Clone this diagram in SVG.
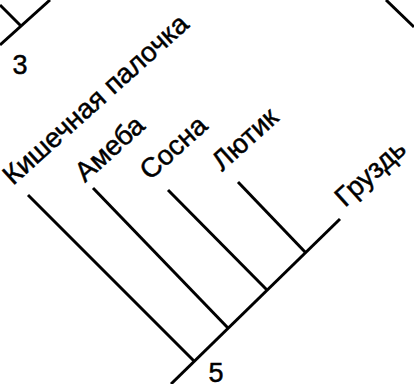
<svg xmlns="http://www.w3.org/2000/svg" width="414" height="384" viewBox="0 0 414 384">
<style>
.ln{stroke:#000;stroke-width:3;fill:none;stroke-linecap:butt}
.lb{font-family:"Liberation Sans",Arial,sans-serif;font-size:27.5px;fill:#000;stroke:#000;stroke-width:0.5}
.num{font-family:"Liberation Sans",Arial,sans-serif;font-size:27px;fill:#000;stroke:#000;stroke-width:0.5;text-anchor:middle}
</style>
<rect width="414" height="384" fill="#fff"/>
<g id="connectors">
<line class="ln" x1="0" y1="45" x2="50" y2="0"/>
<line class="ln" x1="0" y1="5" x2="21" y2="26"/>
<line class="ln" x1="386" y1="0" x2="414" y2="27"/>
<line class="ln" x1="171" y1="384" x2="340" y2="219"/>
<line class="ln" x1="28" y1="195" x2="194" y2="361"/>
<line class="ln" x1="93" y1="188" x2="228" y2="328"/>
<line class="ln" x1="168" y1="190" x2="267" y2="290"/>
<line class="ln" x1="238" y1="182" x2="306" y2="253"/>
</g>
<g id="node-3"><text class="num" x="20" y="74">3</text></g>
<g id="node-5"><text class="num" x="216" y="382">5</text></g>
<g id="node-ecoli"><text class="lb" x="13" y="186" transform="rotate(-42 13 186)">Кишечная палочка</text></g>
<g id="node-ameba"><text class="lb" x="85" y="183" transform="rotate(-42 85 183)">Амеба</text></g>
<g id="node-sosna"><text class="lb" x="150" y="181" transform="rotate(-42 150 181)">Сосна</text></g>
<g id="node-lyutik"><text class="lb" x="222" y="172" transform="rotate(-42 222 172)">Лютик</text></g>
<g id="node-gruzd"><text class="lb" x="345" y="208" transform="rotate(-42 345 208)">Груздь</text></g>
</svg>
